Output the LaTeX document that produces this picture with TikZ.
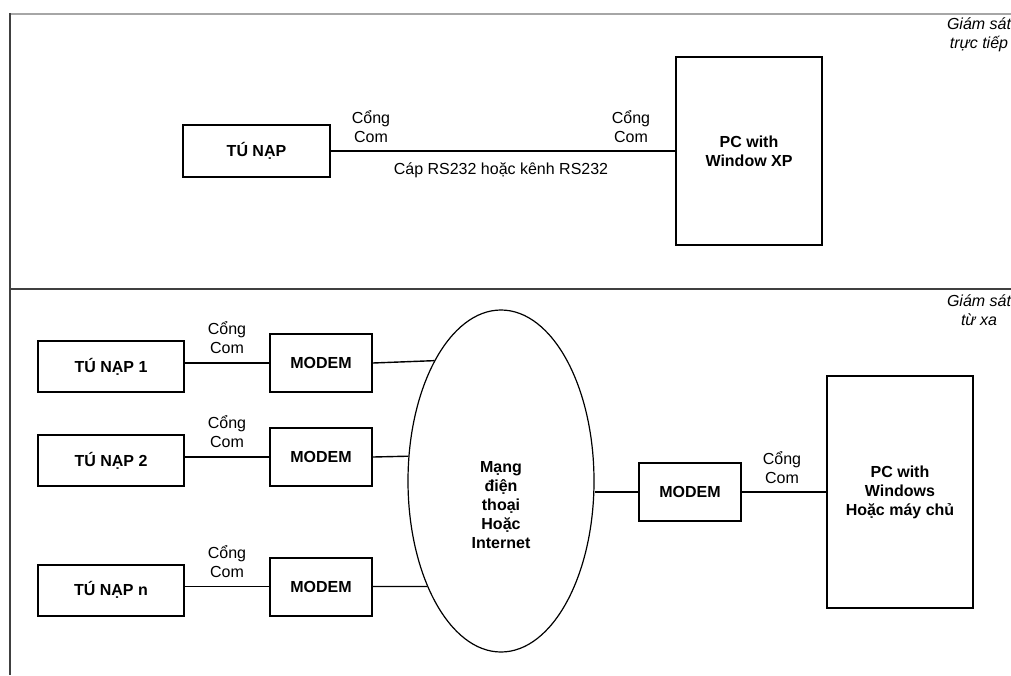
\documentclass[tikz,border=0pt]{standalone}
\usepackage{fontspec}
\setmainfont{Liberation Sans}
\usepackage{tikz}
\usetikzlibrary{shapes.geometric}

\begin{document}
\begin{tikzpicture}[x=0.5pt,y=-0.5pt,
    font=\fontsize{8}{9.5}\selectfont,
    box/.style={draw,line width=1pt,inner sep=0pt,font=\fontsize{8}{9.5}\selectfont\bfseries,align=center},
    lbl/.style={align=center,inner sep=0pt},
    wire/.style={line width=0.7pt}]
    \clip (0,0) rectangle (1011,675);

    % khung
    \draw[line width=1pt,gray!70] (10,14)--(1011,14);
    \draw[line width=1pt,black!75] (10,289)--(1011,289);
    \draw[line width=1pt,black!75] (10,13)--(10,675);

    % giam sat truc tiep
    \node[box,minimum width=73.5pt,minimum height=26pt] (tn) at (256.5,151) {TÚ NẠP};
    \node[box,minimum width=73pt,minimum height=94pt] (pc1) at (749,151) {PC with\\Window XP};
    \draw[wire] (tn.east)--(pc1.west);
    \node[lbl] (com1) at (371,127) {Cổng\\Com};
    \node[lbl] (com2) at (631,127) {Cổng\\Com};
    \node[lbl] (rs) at (501,170) {Cáp RS232 hoặc kênh RS232};
    \node[lbl,font=\fontsize{8}{9.5}\selectfont\itshape] (gs1) at (979,35) {Giám sát\\trực tiếp};

    % giam sat tu xa
    \node[draw,ellipse,line width=0.6pt,minimum width=93pt,minimum height=171pt,inner sep=0pt] (net) at (501,481) {};
    \node[lbl,font=\fontsize{8}{9.5}\selectfont\bfseries] (netlbl) at (501,505) {Mạng\\điện\\thoại\\Hoặc\\Internet};

    \foreach \n/\yt/\ym/\a in {1/366.5/363/119.7,2/460.5/457/165.4,n/590/586.5/235.2}{
        \node[box,minimum width=73pt,minimum height=25.5pt] (tn\n) at (111,\yt) {TÚ NẠP \n};
        \node[box,minimum width=51pt,minimum height=29pt] (md\n) at (321,\ym) {MODEM};
        \node[lbl] (cm\n) at (227,\ym-25) {Cổng\\Com};
        \draw[wire] (tn\n.east |- md\n.west)--(md\n.west);
        \draw[wire] (md\n.east)--(net.\a);
    }

    \node[box,minimum width=51pt,minimum height=29pt] (mdr) at (690,492) {MODEM};
    \node[box,minimum width=73pt,minimum height=116pt] (pc2) at (900,492) {PC with\\Windows\\Hoặc máy chủ};
    \draw[wire] (net.east |- mdr.west)--(mdr.west);
    \draw[wire] (mdr.east)--(pc2.west);
    \node[lbl] (cmr) at (782,468) {Cổng\\Com};
    \node[lbl,font=\fontsize{8}{9.5}\selectfont\itshape] (gs2) at (979,310) {Giám sát\\từ xa};
\end{tikzpicture}
\end{document}
